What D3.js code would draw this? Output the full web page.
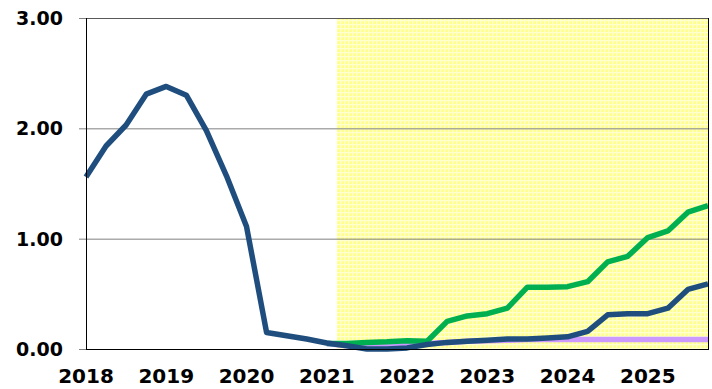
<!DOCTYPE html>
<html>
<head>
<meta charset="utf-8">
<script src="https://cdn.jsdelivr.net/npm/d3@7"></script>
<style>
  body { margin: 0; background: #fff; }
  svg { display: block; }
  text { font-family: "DejaVu Sans", Verdana, sans-serif; font-weight: bold; fill: #000; }
</style>
</head>
<body>
<svg id="chart" width="712" height="389"></svg>
<script>
// quarterly categories, 2018 Q1 .. 2025 Q4
const years = ['2018', '2019', '2020', '2021', '2022', '2023', '2024', '2025'];
const quarters = years.flatMap(y => ['Q1', 'Q2', 'Q3', 'Q4'].map(q => y + q));

const yTicks = [0, 1, 2, 3];

// where the shaded (forecast) area starts
const forecastStart = '2021Q1';

const blueSeries = [1.56, 1.84, 2.03, 2.31, 2.38, 2.30, 1.98, 1.57,
  1.11, 0.15, 0.12, 0.09, 0.055, 0.03, 0.00, 0.00,
  0.01, 0.04, 0.06, 0.07, 0.08, 0.09, 0.09, 0.10,
  0.11, 0.16, 0.31, 0.32, 0.32, 0.37, 0.54, 0.59];

const greenSeries = [null, null, null, null, null, null, null, null,
  null, null, null, null, 0.05, 0.05, 0.06, 0.065,
  0.075, 0.07, 0.25, 0.30, 0.32, 0.37, 0.56, 0.56,
  0.565, 0.61, 0.79, 0.84, 1.01, 1.07, 1.24, 1.30];

const purpleSeries = [null, null, null, null, null, null, null, null,
  null, null, null, null, 0.05, 0.03, 0.02, 0.03,
  0.04, 0.05, 0.06, 0.07, 0.075, 0.08, 0.085, 0.085,
  0.085, 0.085, 0.085, 0.085, 0.085, 0.085, 0.085, 0.085];

const plotL = 86, plotR = 708, plotT = 18, plotB = 349;

const svg = d3.select('#chart');

const x = d3.scalePoint().domain(quarters).range([plotL, plotR]);
const y = d3.scaleLinear().domain([0, 3]).range([plotB, plotT]);

// checkered yellow fill
const defs = svg.append('defs');
const pat = defs.append('pattern')
  .attr('id', 'chk')
  .attr('width', 4).attr('height', 4)
  .attr('patternUnits', 'userSpaceOnUse');
pat.append('rect').attr('width', 4).attr('height', 4).attr('fill', '#ffff8c');
pat.append('rect').attr('width', 4).attr('height', 1.3).attr('fill', '#ffffd0');
pat.append('rect').attr('width', 1.3).attr('height', 4).attr('fill', '#ffffd0');

const xs = x(forecastStart) + x.step() / 2;
svg.append('rect')
  .attr('x', xs)
  .attr('y', plotT + 1)
  .attr('width', plotR - xs)
  .attr('height', plotB - plotT - 1)
  .attr('fill', 'url(#chk)');

// gridlines
svg.append('g')
  .selectAll('line')
  .data(yTicks.filter(d => d > 0 && d < 3))
  .join('line')
  .attr('x1', plotL).attr('x2', plotR)
  .attr('y1', d => y(d) + 0.5).attr('y2', d => y(d) + 0.5)
  .attr('stroke', '#808080')
  .attr('stroke-width', 1);
svg.append('line')
  .attr('x1', plotL).attr('x2', plotR)
  .attr('y1', y(3) + 0.5).attr('y2', y(3) + 0.5)
  .attr('stroke', '#595959');

// y axis ticks + labels
const yAxis = svg.append('g');
yAxis.selectAll('line')
  .data(yTicks)
  .join('line')
  .attr('x1', plotL - 7).attr('x2', plotL)
  .attr('y1', d => y(d) + 0.5).attr('y2', d => y(d) + 0.5)
  .attr('stroke', '#808080');
yAxis.selectAll('text')
  .data(yTicks)
  .join('text')
  .attr('x', 63)
  .attr('y', d => y(d) + 7)
  .attr('text-anchor', 'end')
  .style('font-size', '19px')
  .text(d => d3.format('.2f')(d));

// x labels on first quarter of each year
svg.append('g')
  .selectAll('text')
  .data(years)
  .join('text')
  .attr('x', d => x(d + 'Q1'))
  .attr('y', 383)
  .attr('text-anchor', 'middle')
  .style('font-size', '20px')
  .text(d => d);

const line = d3.line()
  .defined(d => d.v != null)
  .x(d => x(d.q))
  .y(d => y(d.v));

const series = [
  { values: purpleSeries, color: '#cc99ff' },
  { values: greenSeries, color: '#00b050' },
  { values: blueSeries, color: '#1f4e7e' }
];

svg.append('g')
  .selectAll('path')
  .data(series)
  .join('path')
  .attr('fill', 'none')
  .attr('stroke', d => d.color)
  .attr('stroke-width', 5.5)
  .attr('stroke-linejoin', 'round')
  .attr('d', d => line(d.values.map((v, i) => ({ q: quarters[i], v }))));

// axis lines and right border
svg.append('line')
  .attr('x1', plotL + 0.5).attr('x2', plotL + 0.5)
  .attr('y1', plotT).attr('y2', plotB + 1)
  .attr('stroke', '#000');
svg.append('line')
  .attr('x1', plotL).attr('x2', plotR + 1)
  .attr('y1', plotB + 0.5).attr('y2', plotB + 0.5)
  .attr('stroke', '#000');
svg.append('line')
  .attr('x1', plotR + 0.5).attr('x2', plotR + 0.5)
  .attr('y1', plotT).attr('y2', plotB + 1)
  .attr('stroke', '#000');
</script>
</body>
</html>
